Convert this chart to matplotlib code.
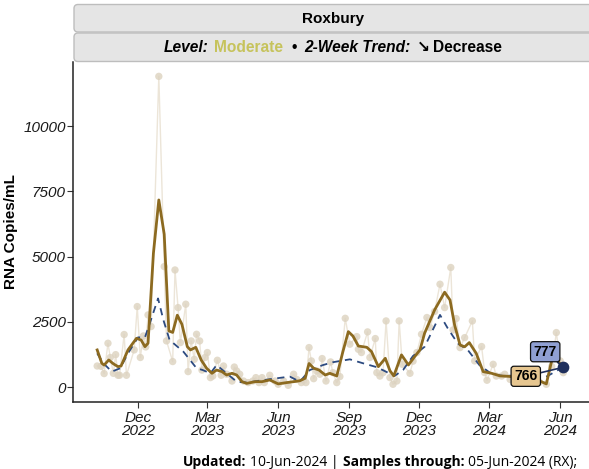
import matplotlib
matplotlib.use('Agg')
import matplotlib.pyplot as plt
from matplotlib.patches import FancyBboxPatch
from matplotlib.transforms import IdentityTransform
import pandas as pd

# Amostras brutas (RNA copies/mL)
raw_dates = ["2022-10-09", "2022-10-14", "2022-10-18", "2022-10-23", "2022-10-26", "2022-10-30",
             "2022-11-02", "2022-11-05", "2022-11-07", "2022-11-13", "2022-11-16", "2022-11-26",
             "2022-11-30", "2022-12-04", "2022-12-08", "2022-12-11", "2022-12-14", "2022-12-18",
             "2022-12-28", "2023-01-04", "2023-01-07", "2023-01-15", "2023-01-18", "2023-01-22",
             "2023-01-25", "2023-02-01", "2023-02-04", "2023-02-08", "2023-02-12", "2023-02-15",
             "2023-02-19", "2023-02-22", "2023-02-26", "2023-03-01", "2023-03-05", "2023-03-08",
             "2023-03-14", "2023-03-19", "2023-03-22", "2023-03-26", "2023-04-02", "2023-04-05",
             "2023-04-08", "2023-04-12", "2023-04-17", "2023-04-23", "2023-04-29", "2023-05-03",
             "2023-05-07", "2023-05-11", "2023-05-14", "2023-05-21", "2023-05-28", "2023-06-01",
             "2023-06-08", "2023-06-14", "2023-06-21", "2023-06-25", "2023-07-01", "2023-07-07",
             "2023-07-11", "2023-07-14", "2023-07-17", "2023-07-21", "2023-07-25", "2023-07-28",
             "2023-08-02", "2023-08-08", "2023-08-11", "2023-08-16", "2023-08-20", "2023-08-27",
             "2023-09-02", "2023-09-11", "2023-09-13", "2023-09-17", "2023-09-25", "2023-09-28",
             "2023-10-05", "2023-10-07", "2023-10-11", "2023-10-15", "2023-10-19", "2023-10-24",
             "2023-10-28", "2023-11-02", "2023-11-05", "2023-11-09", "2023-11-19", "2023-11-23",
             "2023-11-28", "2023-12-04", "2023-12-11", "2023-12-15", "2023-12-21", "2023-12-28",
             "2024-01-03", "2024-01-11", "2024-01-14", "2024-01-18", "2024-01-23", "2024-01-29",
             "2024-02-08", "2024-02-11", "2024-02-20", "2024-02-24", "2024-02-27", "2024-03-06",
             "2024-03-10", "2024-03-17", "2024-03-21", "2024-03-28", "2024-04-03", "2024-04-10",
             "2024-04-18", "2024-04-26", "2024-05-05", "2024-05-14", "2024-05-21", "2024-05-27",
             "2024-06-01", "2024-06-05"]
raw_values = [815, 800, 525, 1685, 1140, 535, 1250, 460, 460, 2020, 460, 1430,
              3090, 1140, 1965, 1545, 2770, 2325, 11900, 4620, 1775, 985, 4490, 3050,
              1710, 3180, 600, 1775, 1070, 2030, 1775, 660, 1140, 1330, 370, 430,
              1035, 460, 815, 500, 240, 775, 625, 500, 240, 180, 240, 370,
              180, 370, 180, 460, 240, 115, 240, 75, 500, 300, 180, 180,
              1520, 1010, 330, 625, 500, 1100, 240, 970, 560, 180, 410, 2640,
              1650, 1940, 1455, 1330, 2120, 1140, 1865, 560, 430, 560, 2540, 370,
              115, 240, 2540, 880, 535, 1000, 1330, 2030, 2670, 2285, 2900, 3945,
              3050, 4585, 2195, 2630, 1520, 1900, 2540, 1010, 1560, 560, 270, 880,
              430, 430, 500, 300, 400, 250, 250, 300, 200, 115, 800, 2095,
              1010, 560]

# Curva suavizada (marrom)
smooth_dates = ["2022-10-09", "2022-10-15", "2022-10-18", "2022-10-24", "2022-10-30", "2022-11-05",
                "2022-11-09", "2022-11-18", "2022-11-29", "2022-12-05", "2022-12-10", "2022-12-14",
                "2022-12-21", "2022-12-28", "2023-01-04", "2023-01-10", "2023-01-15", "2023-01-21",
                "2023-01-27", "2023-02-03", "2023-02-07", "2023-02-14", "2023-02-21", "2023-02-28",
                "2023-03-07", "2023-03-13", "2023-03-20", "2023-03-26", "2023-04-02", "2023-04-08",
                "2023-04-15", "2023-04-21", "2023-05-02", "2023-05-11", "2023-05-21", "2023-06-01",
                "2023-06-12", "2023-06-21", "2023-06-29", "2023-07-06", "2023-07-11", "2023-07-17",
                "2023-07-24", "2023-08-01", "2023-08-07", "2023-08-16", "2023-08-24", "2023-08-31",
                "2023-09-06", "2023-09-13", "2023-09-24", "2023-09-30", "2023-10-09", "2023-10-18",
                "2023-10-24", "2023-10-29", "2023-11-08", "2023-11-17", "2023-11-25", "2023-12-02",
                "2023-12-08", "2023-12-21", "2024-01-03", "2024-01-10", "2024-01-16", "2024-01-23",
                "2024-01-29", "2024-02-04", "2024-02-13", "2024-02-22", "2024-03-04", "2024-03-15",
                "2024-03-26", "2024-04-06", "2024-04-20", "2024-05-05", "2024-05-14", "2024-05-22",
                "2024-05-29", "2024-06-05"]
smooth_values = [1430, 920, 850, 1045, 900, 790, 815, 1430, 1875, 1810, 1555, 1685,
                 5130, 7170, 5860, 2155, 2100, 2760, 2410, 1555, 1430, 1530, 1045, 730,
                 535, 660, 600, 470, 535, 470, 215, 150, 215, 215, 280, 130,
                 180, 215, 250, 345, 910, 730, 660, 470, 535, 435, 1370, 2130,
                 1960, 1580, 1530, 1370, 790, 1110, 635, 435, 1240, 855, 1170, 1430,
                 2070, 2960, 3640, 3340, 2380, 1620, 1550, 1710, 1300, 600, 535, 435,
                 420, 380, 300, 250, 130, 1150, 1000, 766]

# Tendência (azul tracejado)
trend_dates = ["2022-10-09", "2022-10-17", "2022-10-28", "2022-11-08", "2022-11-18", "2022-12-01",
               "2022-12-10", "2022-12-17", "2022-12-27", "2023-01-03", "2023-01-11", "2023-01-29",
               "2023-02-15", "2023-02-23", "2023-03-05", "2023-03-13", "2023-03-26", "2023-04-08",
               "2023-04-21", "2023-05-21", "2023-06-16", "2023-06-29", "2023-07-12", "2023-07-29",
               "2023-08-11", "2023-09-02", "2023-09-19", "2023-10-07", "2023-10-30", "2023-11-10",
               "2023-11-23", "2023-12-08", "2023-12-28", "2024-01-07", "2024-01-20", "2024-02-02",
               "2024-02-17", "2024-03-04", "2024-03-19", "2024-04-03", "2024-04-26", "2024-05-15",
               "2024-06-05"]
trend_values = [1300, 920, 600, 730, 1300, 1910, 1910, 2510, 3400, 2570, 1810, 1360,
                730, 660, 535, 850, 535, 215, 180, 310, 410, 215, 660, 850,
                960, 1070, 920, 770, 435, 660, 1200, 1550, 2770, 2260, 1680, 1430,
                855, 510, 435, 450, 330, 420, 777]

y_ticks = [0, 2500, 5000, 7500, 10000]
x_ticks = ["2022-12-01", "2023-03-01", "2023-06-01", "2023-09-01", "2023-12-01", "2024-03-01", "2024-06-01"]
x_labels = ["Dec\n2022", "Mar\n2023", "Jun\n2023", "Sep\n2023", "Dec\n2023", "Mar\n2024", "Jun\n2024"]

raw_x = pd.to_datetime(raw_dates)
smooth_x = pd.to_datetime(smooth_dates)
trend_x = pd.to_datetime(trend_dates)

plt.rcParams['font.family'] = ['Liberation Sans', 'DejaVu Sans']

W, H = 589, 469
fig = plt.figure(figsize=(W / 100, H / 100), dpi=100)
ax = fig.add_axes([73.3 / W, (H - 402) / H, (591 - 73.3) / W, (402 - 62) / H])

# Pontos e linhas
ax.plot(raw_x, raw_values, color='#ece5d8', lw=1.0, zorder=1)
ax.scatter(raw_x, raw_values, s=28, color='#dcd2bf', alpha=0.8, edgecolors='none', zorder=2)
ax.plot(trend_x, trend_values, color='#2c4a80', lw=1.3, dashes=(4, 3), zorder=3)
ax.plot(smooth_x, smooth_values, color='#8c6a20', lw=2.0, zorder=4)
ax.scatter([trend_x[-1]], [trend_values[-1]], s=55, color='#1f2f5c', zorder=6)

# Rótulos dos últimos valores
ax.annotate(str(trend_values[-1]), xy=(trend_x[-1], trend_values[-1]), xytext=(-13, 11),
            textcoords='offset points', ha='center', va='center', fontsize=10, fontweight='bold',
            bbox=dict(boxstyle='round,pad=0.22,rounding_size=0.2', fc='#8f9fd2', ec='#111111', lw=0.9),
            arrowprops=dict(arrowstyle='-', color='#1f2f5c', lw=1.2, shrinkA=0, shrinkB=0), zorder=7)
ax.annotate(str(smooth_values[-1]), xy=(smooth_x[-1], smooth_values[-1]), xytext=(-27, -6.5),
            textcoords='offset points', ha='center', va='center', fontsize=10, fontweight='bold',
            bbox=dict(boxstyle='round,pad=0.22,rounding_size=0.2', fc='#e6c690', ec='#111111', lw=0.9),
            arrowprops=dict(arrowstyle='-', color='#1f2f5c', lw=1.2, shrinkA=0, shrinkB=0), zorder=7)

ax.set_xlim(pd.Timestamp("2022-09-08"), pd.Timestamp("2024-07-11"))
ax.set_ylim(-563, 12450)
ax.set_yticks(y_ticks)
ax.set_yticklabels([str(v) for v in y_ticks], fontstyle='italic', fontsize=11)
ax.set_xticks(pd.to_datetime(x_ticks))
ax.set_xticklabels(x_labels, fontstyle='italic', fontsize=11, linespacing=0.95)
ax.tick_params(axis='both', direction='out', length=4, width=0.8, colors='#333333', labelcolor='#1a1a1a')
ax.tick_params(axis='y', pad=1.5)
ax.tick_params(axis='x', pad=2.5)
ax.set_ylabel('RNA Copies/mL', fontweight='bold', fontsize=11, labelpad=4)
for side in ['top', 'right']:
    ax.spines[side].set_visible(False)
for side in ['left', 'bottom']:
    ax.spines[side].set_linewidth(1.1)
    ax.spines[side].set_color('#222222')

# Faixas do título
for y0, y1 in [(4.5, 32), (33, 61.5)]:
    fig.patches.append(FancyBboxPatch((74, H - y1), 530, y1 - y0,
                                      boxstyle='round,pad=0,rounding_size=4',
                                      fc='#e5e5e5', ec='#bdbdbd', lw=1.0,
                                      transform=IdentityTransform(), figure=fig))

fig.text(333 / W, (H - 18.5) / H, 'Roxbury', ha='center', va='center', fontsize=11, fontweight='bold')

renderer = fig.canvas.get_renderer()


def rich_line(pieces, x, y, center=True):
    items = []
    total = 0
    for s, gap, kw in pieces:
        t = fig.text(0, y, s, transform=IdentityTransform(), va='center', **kw)
        w = t.get_window_extent(renderer).width
        items.append((t, gap, w))
        total += gap + w
    start = x - total / 2 if center else x
    for t, gap, w in items:
        start += gap
        t.set_x(start)
        start += w


strip_kw = dict(fontsize=11.2, fontweight='bold')
rich_line([
    ('Level:', 0, dict(fontstyle='italic', **strip_kw)),
    ('Moderate', 6, dict(color='#c6c35c', **strip_kw)),
    ('•', 8, dict(**strip_kw)),
    ('2-Week Trend:', 8, dict(fontstyle='italic', **strip_kw)),
    ('↘', 6, dict(family=['DejaVu Sans'], **strip_kw)),
    ('Decrease', 3, dict(**strip_kw)),
], 332.5, H - 47)

cap_kw = dict(fontsize=10, family=['Open Sans', 'DejaVu Sans'])
rich_line([
    ('Updated:', 0, dict(fontweight='bold', **cap_kw)),
    ('10-Jun-2024 |', 4, dict(**cap_kw)),
    ('Samples through:', 4, dict(fontweight='bold', **cap_kw)),
    ('05-Jun-2024 (RX);', 4, dict(**cap_kw)),
], 183, H - 462, center=False)

fig.savefig('out.png', dpi=100)
